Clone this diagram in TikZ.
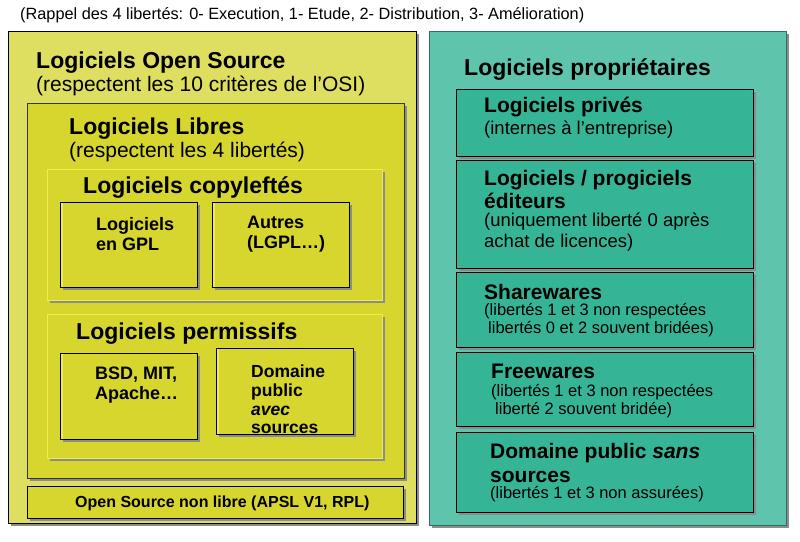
\documentclass[tikz,border=0pt]{standalone}
\usepackage{fontspec}
\setmainfont{Liberation Sans}
\usetikzlibrary{shadows}
\definecolor{ylight}{HTML}{DEDE60}
\definecolor{ydark}{HTML}{D6D62E}
\definecolor{yedge}{HTML}{EEEE4A}
\definecolor{glight}{HTML}{5EC4AB}
\definecolor{gdark}{HTML}{36B596}
\definecolor{gedge}{HTML}{2F6F60}
\newcommand{\fs}[2]{\fontsize{#1}{#2}\selectfont}
\tikzset{
  shad/.style={drop shadow={shadow xshift=2.5pt, shadow yshift=-2.5pt, fill=black!45, opacity=1}},
  boxbase/.style={rectangle, inner sep=0, anchor=north west, shad, line width=0.7pt},
  osbox/.style={boxbase, fill=ylight, draw=black},
  ybox/.style={boxbase, fill=ydark, draw=black!80},
  ysoft/.style={boxbase, fill=ydark, draw=yedge},
  leafbox/.style={boxbase, fill=ydark, draw=black,
    path picture={\fill[yedge] (path picture bounding box.north west) rectangle ([xshift=2.5pt]path picture bounding box.south west);}},
  propbox/.style={boxbase, fill=glight, draw=gedge},
  gbox/.style={boxbase, fill=gdark, draw=black},
  txt/.style={inner sep=0, anchor=west, align=left, text=black, yshift=-2.5pt},
  head/.style={txt, font=\fs{23}{27}\bfseries},
  sub/.style={txt, font=\fs{21}{24}},
  leaf/.style={txt, font=\fs{18}{20}\bfseries},
  ghead/.style={txt, font=\fs{21}{23}\bfseries},
  gsub/.style={txt, font=\fs{18.5}{21}},
  gsmall/.style={txt, font=\fs{16.5}{18}},
}
\begin{document}
\begin{tikzpicture}[x=1pt,y=-1pt]
\useasboundingbox (0,0) rectangle (800,541);
\fill[white] (0,0) rectangle (800,541);

% reminder line
\node[txt, font=\fs{16.3}{18}] (rappel) at (20,13) {(Rappel des 4 libertés: 0- Execution, 1- Etude, 2- Distribution, 3- Amélioration)};

% ---------- open source side ----------
\node[osbox, minimum width=408, minimum height=492] (os) at (8,31) {};
\node[head] (osT) at (36,60) {Logiciels Open Source};
\node[sub] (osS) at (36,83) {(respectent les 10 critères de l’OSI)};

\node[ybox, minimum width=377, minimum height=375] (libres) at (27,103) {};
\node[head] (libT) at (69,126) {Logiciels Libres};
\node[sub] (libS) at (69,149) {(respectent les 4 libertés)};

\node[ysoft, minimum width=335, minimum height=131] (copy) at (47,169) {};
\node[head] (copyT) at (83,185) {Logiciels copyleftés};
\node[leafbox, minimum width=137, minimum height=85] (gpl) at (60,202) {};
\node[leaf] (gplT) at (96,232) {Logiciels\\en GPL};
\node[leafbox, minimum width=137, minimum height=85] (autres) at (212,202) {};
\node[leaf] (autresT) at (247,232) {Autres\\(LGPL…)};

\node[ysoft, minimum width=335, minimum height=144] (perm) at (47,314) {};
\node[head] (permT) at (76,331) {Logiciels permissifs};
\node[leafbox, minimum width=137, minimum height=86] (bsd) at (60,353) {};
\node[leaf] (bsdT) at (95,383) {BSD, MIT,\\Apache…};
\node[leafbox, minimum width=137, minimum height=86] (dpa) at (216,348) {};
\node[leaf, font=\fs{17.5}{18.8}\bfseries] (dpaT) at (251,397) {Domaine\\public\\\textit{avec}\\sources};

\node[ybox, draw=black, minimum width=376, minimum height=32] (nonlibre) at (27,486) {};
\node[txt, font=\fs{16}{18}\bfseries] (nonlibreT) at (75,501) {Open Source non libre (APSL V1, RPL)};

% ---------- proprietary side ----------
\node[propbox, minimum width=357, minimum height=494] (prop) at (429,31) {};
\node[head] (propT) at (464,67) {Logiciels propriétaires};

\node[gbox, minimum width=297, minimum height=67] (prives) at (456,89) {};
\node[ghead] (privesT) at (484,105) {Logiciels privés};
\node[gsub] (privesS) at (484,127) {(internes à l’entreprise)};

\node[gbox, minimum width=297, minimum height=108] (edit) at (456,160) {};
\node[ghead] (editT) at (484,187) {Logiciels / progiciels\\éditeurs};
\node[gsub] (editS) at (484,230) {(uniquement liberté 0 après\\achat de licences)};

\node[gbox, minimum width=297, minimum height=75] (share) at (456,272) {};
\node[ghead] (shareT) at (484,289) {Sharewares};
\node[gsmall] (shareS) at (484,318) {(libertés 1 et 3 non respectées\\\hspace*{4pt}libertés 0 et 2 souvent bridées)};

\node[gbox, minimum width=297, minimum height=74] (free) at (456,352) {};
\node[ghead] (freeT) at (491,369) {Freewares};
\node[gsmall] (freeS) at (491,399) {(libertés 1 et 3 non respectées\\\hspace*{4pt}liberté 2 souvent bridée)};

\node[gbox, minimum width=297, minimum height=80] (dps) at (456,432) {};
\node[ghead, font=\fs{21}{24}\bfseries] (dpsT) at (490,460) {Domaine public \textit{sans}\\sources};
\node[gsmall] (dpsS) at (490,492) {(libertés 1 et 3 non assurées)};
\end{tikzpicture}
\end{document}
